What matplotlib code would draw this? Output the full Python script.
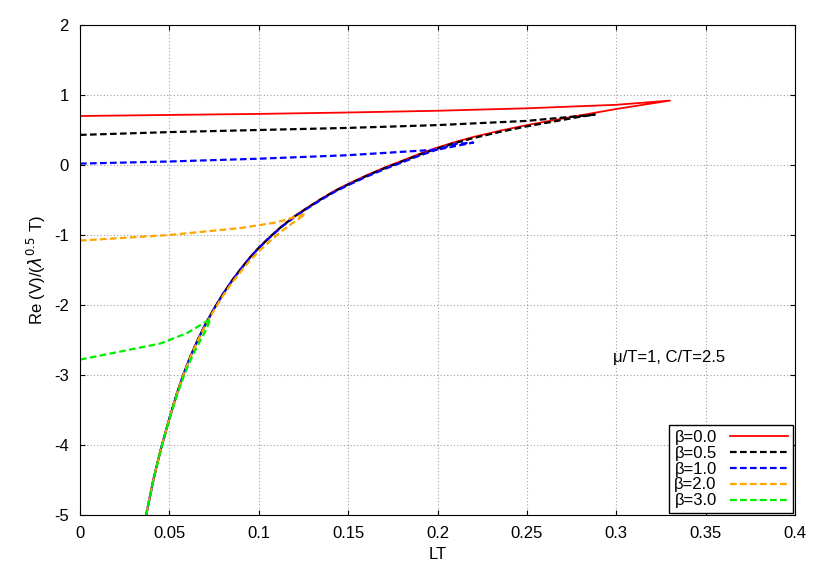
import matplotlib
matplotlib.use("Agg")
import matplotlib.pyplot as plt

plt.rcParams["font.family"] = "Liberation Sans"
plt.rcParams["axes.unicode_minus"] = False

labels = ["β=0.0", "β=0.5", "β=1.0", "β=2.0", "β=3.0"]
colors = ["#ff0000", "#000000", "#0000ff", "#ffa500", "#00ee00"]

lower_x = [0.037, 0.041, 0.045, 0.05, 0.054, 0.058, 0.062, 0.066, 0.07, 0.075, 0.08, 0.085, 0.09, 0.095, 0.1, 0.106, 0.113, 0.12, 0.127, 0.135, 0.143, 0.15, 0.16, 0.17, 0.18, 0.19, 0.2, 0.21, 0.22, 0.235, 0.25, 0.265, 0.28, 0.29, 0.3, 0.315, 0.33]
lower_y = [-5.0, -4.5, -4.08, -3.62, -3.28, -2.98, -2.72, -2.49, -2.28, -2.05, -1.84, -1.65, -1.48, -1.32, -1.18, -1.03, -0.87, -0.73, -0.61, -0.48, -0.36, -0.27, -0.15, -0.04, 0.06, 0.16, 0.25, 0.33, 0.40, 0.49, 0.57, 0.64, 0.71, 0.755, 0.80, 0.86, 0.92]

upper_x = {
    "β=0.0": [0.0, 0.05, 0.1, 0.15, 0.2, 0.25, 0.3, 0.33],
    "β=0.5": [0.0, 0.05, 0.1, 0.15, 0.2, 0.25, 0.288],
    "β=1.0": [0.0, 0.05, 0.1, 0.15, 0.2, 0.22],
    "β=2.0": [0.0, 0.05, 0.09, 0.11, 0.126],
    "β=3.0": [0.0, 0.045, 0.06, 0.073],
}
upper_y = {
    "β=0.0": [0.70, 0.715, 0.73, 0.75, 0.775, 0.81, 0.86, 0.92],
    "β=0.5": [0.43, 0.47, 0.50, 0.53, 0.57, 0.63, 0.72],
    "β=1.0": [0.02, 0.05, 0.09, 0.14, 0.22, 0.32],
    "β=2.0": [-1.08, -1.0, -0.9, -0.82, -0.7],
    "β=3.0": [-2.78, -2.55, -2.4, -2.2],
}
lower_offset = {"β=0.0": 0.0, "β=0.5": -0.02, "β=1.0": -0.03, "β=2.0": -0.08, "β=3.0": -0.1}

styles = ["-", (0, (3, 1.5)), (0, (3, 1.5)), (0, (3, 1.5)), (0, (3, 1.5))]

fig = plt.figure(figsize=(8.3, 5.81), dpi=100)
ax = fig.add_axes([80/830, 66/581, 715/830, 490/581])

for lab, col, ls in zip(labels, colors, styles):
    ux, uy = upper_x[lab], upper_y[lab]
    xmax = ux[-1]
    lx = [x for x in lower_x if x < xmax]
    ly = [y for x, y in zip(lower_x, lower_y) if x < xmax]
    n = len(lx)
    ly = [y + lower_offset[lab] * (i / max(n - 1, 1)) ** 2 for i, y in enumerate(ly)]
    xs = ux + lx[::-1]
    ys = uy + ly[::-1]
    ax.plot(xs, ys, color=col, ls=ls, lw=1.3 if ls == "-" else 1.6, label=lab)

ax.set_xlim(0, 0.4)
ax.set_ylim(-5, 2)
ax.set_xticks([0, 0.05, 0.1, 0.15, 0.2, 0.25, 0.3, 0.35, 0.4])
ax.set_xticklabels(["0", "0.05", "0.1", "0.15", "0.2", "0.25", "0.3", "0.35", "0.4"])
ax.set_yticks(range(-5, 3))
ax.grid(True, color="#a0a0a0", ls=(0, (1, 2)), lw=0.8)
ax.tick_params(direction="in", labelsize=12, top=True, right=True, pad=8)
ax.set_xlabel("LT", fontsize=12)
ax.set_ylabel(r"Re (V)/($\lambda^{0.5}$ T)", fontsize=12)
ax.text(0.298, -2.82, "μ/T=1, C/T=2.5", fontsize=12)
leg = ax.legend(loc="lower right", fontsize=12, frameon=True, fancybox=False,
                edgecolor="black", handlelength=3.5, borderaxespad=0.1,
                labelspacing=0.05, borderpad=0.3, markerfirst=False,
                framealpha=1)
leg.get_frame().set_linewidth(1.0)
fig.savefig("out.png", dpi=100)
